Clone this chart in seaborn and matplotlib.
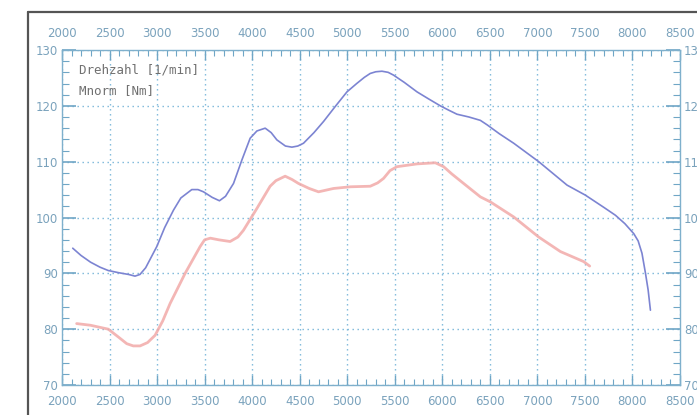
import matplotlib
matplotlib.use("Agg")
import matplotlib.pyplot as plt
import seaborn as sns
import pandas as pd
from matplotlib.ticker import MultipleLocator
from matplotlib.lines import Line2D

# --- data ---
blue_rpm = [2113, 2200, 2300, 2400, 2487, 2600, 2700, 2768, 2820, 2880, 2997, 3080, 3172,
            3250, 3365, 3430, 3488, 3580, 3656, 3720, 3804, 3892, 3979, 4050, 4137, 4200,
            4260, 4350, 4418, 4480, 4540, 4650, 4751, 4870, 4997, 5100, 5180, 5242, 5300,
            5365, 5430, 5487, 5600, 5734, 5850, 5979, 6070, 6154, 6280, 6400, 6471, 6600,
            6751, 7014, 7312, 7505, 7700, 7821, 7920, 8014, 8060, 8100, 8137, 8165, 8189]
blue_val = [94.5, 93.2, 92.0, 91.1, 90.5, 90.1, 89.8, 89.5, 89.8, 91.0, 94.8, 98.2, 101.3,
            103.5, 105.0, 105.0, 104.6, 103.6, 103.0, 103.8, 106.1, 110.3, 114.2, 115.5, 116.0, 115.2,
            113.9, 112.8, 112.6, 112.8, 113.3, 115.2, 117.2, 119.8, 122.5, 124.0, 125.1, 125.8, 126.1,
            126.2, 126.0, 125.5, 124.2, 122.5, 121.3, 120.0, 119.2, 118.5, 118.0, 117.4, 116.6, 115.0,
            113.3, 110.0, 105.8, 104.0, 101.8, 100.4, 98.9, 97.1, 95.8, 93.6, 90.0, 87.0, 83.4]

red_rpm = [2154, 2300, 2487, 2600, 2681, 2750, 2821, 2900, 2979, 3060, 3137, 3295, 3453,
           3500, 3560, 3650, 3768, 3850, 3908, 4049, 4189, 4250, 4347, 4420, 4487, 4600,
           4698, 4856, 5032, 5242, 5320, 5382, 5450, 5523, 5734, 5926, 6014, 6100, 6224,
           6400, 6505, 6751, 7014, 7242, 7487, 7550]
red_val = [81.0, 80.7, 80.0, 78.5, 77.4, 77.0, 77.0, 77.6, 78.9, 81.5, 84.6, 90.0, 94.8,
           96.0, 96.3, 96.0, 95.7, 96.5, 97.7, 101.6, 105.6, 106.6, 107.4, 106.8, 106.1, 105.2,
           104.6, 105.2, 105.5, 105.6, 106.2, 107.0, 108.4, 109.1, 109.6, 109.8, 109.1, 107.8, 106.1,
           103.7, 102.8, 100.1, 96.5, 93.9, 92.1, 91.3]

x_ticks = [2000, 2500, 3000, 3500, 4000, 4500, 5000, 5500, 6000, 6500, 7000, 7500, 8000, 8500]
y_ticks = [70, 80, 90, 100, 110, 120, 130]
legend_lines = ["Drehzahl [1/min]", "Mnorm [Nm]"]

df = pd.concat([
    pd.DataFrame({"rpm": blue_rpm, "val": blue_val, "s": "blue"}),
    pd.DataFrame({"rpm": red_rpm, "val": red_val, "s": "red"}),
])

sns.set_theme(style="white")
plt.rcParams["font.family"] = ["DejaVu Sans"]

W, H = 697, 415
fig = plt.figure(figsize=(W / 100, H / 100), dpi=100)
ax = fig.add_axes([62 / W, 1 - 385 / H, (680 - 62) / W, (385 - 50) / H])

sns.lineplot(data=df[df.s == "red"], x="rpm", y="val", ax=ax, color="#f2aaa8",
             lw=2.0, sort=False, zorder=3, alpha=0.85)
sns.lineplot(data=df[df.s == "blue"], x="rpm", y="val", ax=ax, color="#7c84d2",
             lw=1.2, sort=False, zorder=4)

ax.set_xlim(2000, 8500)
ax.set_ylim(70, 130)
ax.set_xticks(x_ticks)
ax.set_yticks(y_ticks)
ax.xaxis.set_minor_locator(MultipleLocator(100))
ax.yaxis.set_minor_locator(MultipleLocator(2))
ax.set_xlabel("")
ax.set_ylabel("")

tick_col = "#6fa6c6"
lab_col = "#7aa2bc"
ax.tick_params(axis="both", which="both", direction="in", colors=tick_col,
               top=True, bottom=True, left=True, right=True,
               labeltop=True, labelbottom=True, labelleft=True, labelright=True,
               labelsize=8.5, labelcolor=lab_col)
ax.tick_params(axis="x", which="major", length=7, width=1, pad=7)
ax.tick_params(axis="x", which="minor", length=4, width=0.8)
ax.tick_params(axis="y", which="major", length=10, width=1.2, pad=3)
ax.tick_params(axis="y", which="minor", length=5, width=0.8)

ax.grid(True, which="major", color="#78b6d8", linestyle=(0, (1.0, 2.6)), lw=1.0)
for s in ax.spines.values():
    s.set_color("#7fb0cc")
    s.set_linewidth(1.0)
    s.set_visible(True)

for i, t in enumerate(legend_lines):
    ax.text(0.028, 0.94 - i * 0.06, t, transform=ax.transAxes, fontsize=9,
            family="DejaVu Sans Mono", color="#707070", va="center", ha="left")

# outer frame (left and top borders)
fig.add_artist(Line2D([28 / W, 28 / W], [0, 1 - 12 / H], transform=fig.transFigure,
                      color="#555555", lw=1.6))
fig.add_artist(Line2D([28 / W, 1], [1 - 12 / H, 1 - 12 / H], transform=fig.transFigure,
                      color="#555555", lw=1.6))

fig.savefig("out.png", dpi=100)
